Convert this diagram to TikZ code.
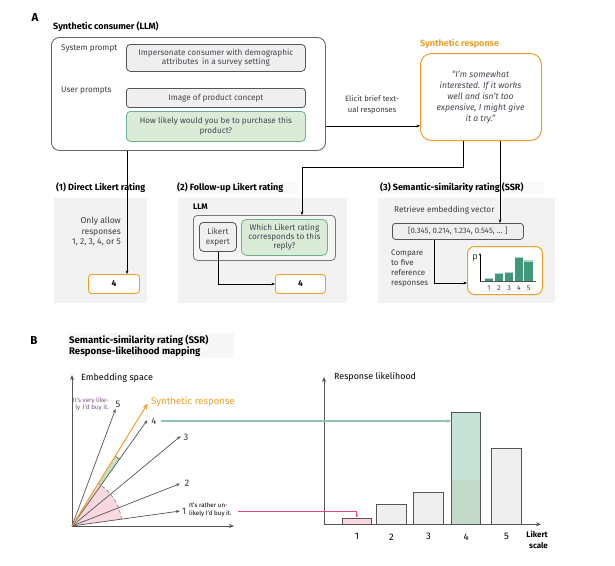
\documentclass[tikz,border=0pt]{standalone}
\usepackage{fontspec}
\setmainfont{Fira Sans}
\usetikzlibrary{arrows.meta}
\definecolor{txt}{HTML}{3A3A3A}
\definecolor{bxtxt}{HTML}{454550}
\definecolor{bxgray}{HTML}{EFEFEF}
\definecolor{bxline}{HTML}{555555}
\definecolor{grnfill}{HTML}{DAEBD8}
\definecolor{grnline}{HTML}{6FAF8E}
\definecolor{orng}{HTML}{F0A028}
\definecolor{panel}{HTML}{F2F2F2}
\definecolor{barg}{HTML}{3F9878}
\definecolor{barl}{HTML}{A9D6C2}
\definecolor{pinkf}{HTML}{F9D8E0}
\definecolor{pinkl}{HTML}{E8457A}
\definecolor{grarrow}{HTML}{8CC4AC}
\definecolor{vecg}{HTML}{555555}
\definecolor{purp}{HTML}{7A4A86}
\definecolor{bfourtop}{HTML}{C5E3D6}
\definecolor{bfourbot}{HTML}{C3D9CA}
\begin{document}
\begin{tikzpicture}[x=1pt,y=-1pt,
  font=\fontsize{8.2}{9.5}\selectfont, text=txt,
  arr/.style={-{Stealth[length=3.5pt,width=2.8pt]}, line width=0.8pt, black},
  ttl/.style={font=\fontsize{9}{10}\selectfont\bfseries, text=black, anchor=west, inner sep=0pt},
  gbox/.style={draw=bxline, fill=bxgray, line width=0.8pt, rounded corners=3pt, align=center, text=bxtxt, inner sep=1pt, anchor=north west},
  grbox/.style={draw=grnline, fill=grnfill, line width=0.8pt, rounded corners=4pt, align=center, text=bxtxt, inner sep=1pt, anchor=north west},
  obox/.style={draw=orng, fill=white, line width=0.9pt, rounded corners=3pt, align=center, text=black, inner sep=1pt, anchor=north west, font=\fontsize{8.5}{9}\selectfont\bfseries},
  plain/.style={inner sep=0pt},
  vec/.style={draw=vecg, line width=0.7pt, -{Stealth[length=4pt,width=3pt]}},
  bar/.style={draw=bxline, line width=0.8pt, anchor=south west, inner sep=0pt, minimum width=29.5pt},
  ]
\useasboundingbox (0,0) rectangle (615,565);

% ---------------- Panel A -----------------
\node[plain, font=\fontsize{11.5}{12}\selectfont\bfseries, text=black] (labA) at (35,18) {A};
\node[ttl] (tcons) at (53,27) {Synthetic consumer (LLM)};
\node[draw=bxline!90, fill=white, line width=0.9pt, rounded corners=8pt, minimum width=274pt, minimum height=113pt, anchor=north west, inner sep=0pt] (cons) at (51,37) {};
\node[plain, anchor=west] (tsys) at (61,48) {System prompt};
\node[plain, anchor=west] (tusr) at (61,91) {User prompts};
\node[gbox, minimum width=179pt, minimum height=27pt, rounded corners=4pt, font=\fontsize{8.2}{9}\selectfont] (sys) at (126,44) {Impersonate consumer with demographic\\attributes\, in a survey setting};
\node[gbox, minimum width=179pt, minimum height=19pt] (img) at (126,88) {Image of product concept};
\node[grbox, minimum width=179pt, minimum height=30pt, font=\fontsize{8.2}{10}\selectfont] (q) at (126,111) {How likely would you be to purchase this\\product?};

% synthetic response
\node[ttl, text=orng] (tsyn) at (420,44) {Synthetic response};
\node[draw=orng, fill=white, line width=1pt, rounded corners=11pt, minimum width=121pt, minimum height=87pt, anchor=north west, inner sep=0pt] (syn) at (420,53) {};
\node[plain, align=center, text=bxtxt, font=\fontsize{8.6}{11}\selectfont\itshape] (syntxt) at (480.5,97) {“I'm somewhat\\interested. If it works\\well and isn't too\\expensive, I might give\\it a try.”};

\coordinate (y126) at (0,126);
\draw[arr] (cons.east |- y126) -- (syn.west |- y126);
\node[plain, align=center, font=\fontsize{7.7}{11}\selectfont] (elicit) at (372,105) {Elicit brief text-\\ual responses};

% panels
\fill[panel] (54,198) rectangle (147,303);
\fill[panel] (178,198) rectangle (347,303);
\fill[panel] (378,198) rectangle (555,303);
\fill[panel!50] (176,181) rectangle (297,194);
\fill[panel!50] (378,181) rectangle (544,194);

\node[ttl] (t1) at (56,188) {(1) Direct Likert rating};
\node[ttl] (t2) at (177,188) {(2) Follow-up Likert rating};
\node[ttl] (t3) at (380,188) {(3) Semantic-similarity rating (SSR)};

% panel 1
\node[plain, anchor=north east, align=right, font=\fontsize{8.5}{10.5}\selectfont] (only) at (121,217) {Only allow\\responses\\1, 2, 3, 4, or 5};
\node[obox, minimum width=51pt, minimum height=19pt] (d4) at (88,274) {4};
\coordinate (x127) at (127,0);
\draw[arr] (cons.south -| x127) -- (d4.north -| x127);

% panel 2
\node[plain, anchor=west, font=\fontsize{8}{8}\selectfont\bfseries, text=black] (tllm) at (193,207) {LLM};
\node[draw=bxline!80, fill=white!96!black, line width=0.8pt, rounded corners=4pt, minimum width=142pt, minimum height=45pt, anchor=north west, inner sep=0pt] (llm) at (193,215) {};
\node[gbox, minimum width=37pt, minimum height=29pt, rounded corners=4pt, font=\fontsize{8.2}{10}\selectfont] (lik) at (199,222) {Likert\\expert};
\node[grbox, minimum width=86pt, minimum height=36pt, rounded corners=5pt, font=\fontsize{8.2}{9.2}\selectfont] (which) at (241,219) {Which Likert rating\\corresponds to this\\reply?};
\node[obox, minimum width=50pt, minimum height=19pt] (d4b) at (275,274) {4};
\draw[arr] (lik.south) |- (d4b.west);
\coordinate (k1) at (463,167);
\coordinate (k2) at (302,167);
\draw[arr] (syn.south -| k1) -- (k1) -- (k2) -- (llm.north -| k2);

% panel 3
\node[plain, anchor=west] (tret) at (394,210) {Retrieve embedding vector};
\node[gbox, minimum width=131pt, minimum height=16pt, font=\fontsize{7.8}{9}\selectfont] (vec) at (392,223) {[0.345, 0.214, 1.234, 0.545, ... ]};
\coordinate (x500) at (500,0);
\draw[arr] (syn.south -| x500) -- (vec.north -| x500);
\node[plain, anchor=north west, align=left, font=\fontsize{8}{9.8}\selectfont] (cmp) at (391,250) {Compare\\to five\\reference\\responses};
\node[draw=orng, fill=white, line width=1pt, rounded corners=7pt, minimum width=75pt, minimum height=48pt, anchor=north west, inner sep=0pt] (chart) at (467,246) {};
\coordinate (x434) at (434,0);
\coordinate (y283) at (0,283);
\draw[arr] (vec.south -| x434) |- (chart.west |- y283);
% mini chart
\draw[line width=0.6pt, -{Stealth[length=2.5pt,width=2pt]}] (480,281) -- (480,253);
\draw[line width=0.6pt, vecg] (480,281) -- (536,281);
\node[plain, font=\fontsize{9}{9}\selectfont] at (475,258) {p};
\foreach \cx/\top/\lab in {489/279/1, 499/274.3/2, 509/273.3/3, 519/258.3/4, 528.5/261.7/5}{
  \fill[barg] (\cx-4.3,281) rectangle (\cx+4.3,\top);
  \fill[barl] (\cx-4.3,\top) rectangle (\cx+4.3,\top-1.3);
  \node[plain, font=\fontsize{7}{7}\selectfont] at (\cx,288) {\lab};
}

% ---------------- Panel B -----------------
\node[plain, font=\fontsize{11.5}{12}\selectfont\bfseries, text=black] (labB) at (34,341) {B};
\fill[panel!60] (68,333) rectangle (234,358);
\node[plain, anchor=north west, align=left, font=\fontsize{9.6}{11}\selectfont\bfseries, text=black] (tB) at (69,335) {Semantic-similarity rating (SSR)\\Response-likelihood mapping};

\begin{scope}[shift={(72,526)}, x=1pt, y=1pt]
  \fill[grnfill!80!grnline] (0,0) -- (54.6:82) -- (58.3:82) -- cycle;
  \fill[pinkf] (0,0) -- (7.9:50) arc[start angle=7.9, end angle=58.3, radius=50] -- cycle;
  \draw[vecg!80, dashed, line width=0.6pt] (7.9:50) arc[start angle=7.9, end angle=58.3, radius=50];
  \draw[vecg, line width=0.6pt] (54.6:82) -- (58.3:82);
  \draw[vecg, line width=0.8pt, -{Stealth[length=5pt,width=4pt]}] (0,0) -- (0,151);
  \draw[vecg, line width=0.8pt, -{Stealth[length=5pt,width=4pt]}] (0,0) -- (162,0);
  \draw[vec] (0,0) -- (69.6:125);
  \draw[vec] (0,0) -- (54.6:130);
  \draw[vec] (0,0) -- (39.6:141);
  \draw[vec] (0,0) -- (21.4:116);
  \draw[vec] (0,0) -- (7.9:109);
  \draw[orng, line width=1pt, -{Stealth[length=6pt,width=5pt]}] (0,0) -- (58.3:144);
\end{scope}

\node[plain, anchor=west, font=\fontsize{9}{10}\selectfont, text=black] (temb) at (81,378) {Embedding space};
\node[plain, anchor=west, font=\fontsize{9.7}{10}\selectfont, text=orng] (tsr) at (151,402) {Synthetic response};
\node[plain, font=\fontsize{9.5}{10}\selectfont] (l5) at (118,404) {5};
\node[plain, font=\fontsize{9.5}{10}\selectfont] (l4) at (154,421) {4};
\node[plain, font=\fontsize{9.5}{10}\selectfont] (l3) at (186,437) {3};
\node[plain, font=\fontsize{9.5}{10}\selectfont] (l2) at (187,483) {2};
\node[plain, font=\fontsize{9.5}{10}\selectfont] (l1) at (184,511) {1};
\node[plain, anchor=east, align=right, text=purp, font=\fontsize{6.2}{7.3}\selectfont] (t5) at (109,404) {It's very like-\\ly\, I'd buy it.};
\node[plain, anchor=west, align=left, text=black, font=\fontsize{6.2}{7.6}\selectfont] (t1b) at (189,510) {It's rather un-\\likely I'd buy it.};

% bar chart
\draw[vecg, line width=0.8pt, -{Stealth[length=5pt,width=4pt]}] (324,524.3) -- (324,377);
\draw[vecg, line width=0.8pt, -{Stealth[length=5pt,width=4pt]}] (324,524.3) -- (541,524.3);
\node[plain, anchor=west, font=\fontsize{8.9}{9}\selectfont, text=black] (trl) at (334,377) {Response likelihood};
\node[bar, fill=pinkf, minimum height=6pt] (b1) at (341.7,524.3) {};
\node[bar, fill=bxgray, minimum height=20pt] (b2) at (376.3,524.3) {};
\node[bar, fill=bxgray, minimum height=32pt] (b3) at (413.3,524.3) {};
\fill[bfourtop] (451.3,413) rectangle (480.3,480);
\fill[bfourbot] (451.3,480) rectangle (480.3,524.3);
\node[bar, minimum height=111.3pt, minimum width=29pt] (b4) at (451.3,524.3) {};
\node[bar, fill=bxgray, minimum height=76pt] (b5) at (491.3,524.3) {};
\foreach \b/\lab in {b1/1,b2/2,b3/3,b4/4,b5/5}{
  \node[plain, font=\fontsize{9.5}{10}\selectfont, text=black] at ([yshift=-12.5pt]\b.south) {\lab};
}
\node[plain, anchor=north east, align=right, font=\fontsize{8}{11}\selectfont\bfseries, text=black] (tls) at (548,531) {Likert\\scale};

\draw[grarrow, line width=1.2pt, -{Stealth[length=4pt,width=3.5pt]}] (l4.east) ++(4,0) -- (l4 -| b4.west);
\coordinate (p1) at (238,511);
\draw[pinkl, line width=0.8pt, -{Stealth[length=3pt,width=2.5pt]}] (p1) -| (b1.north);
\end{tikzpicture}
\end{document}
